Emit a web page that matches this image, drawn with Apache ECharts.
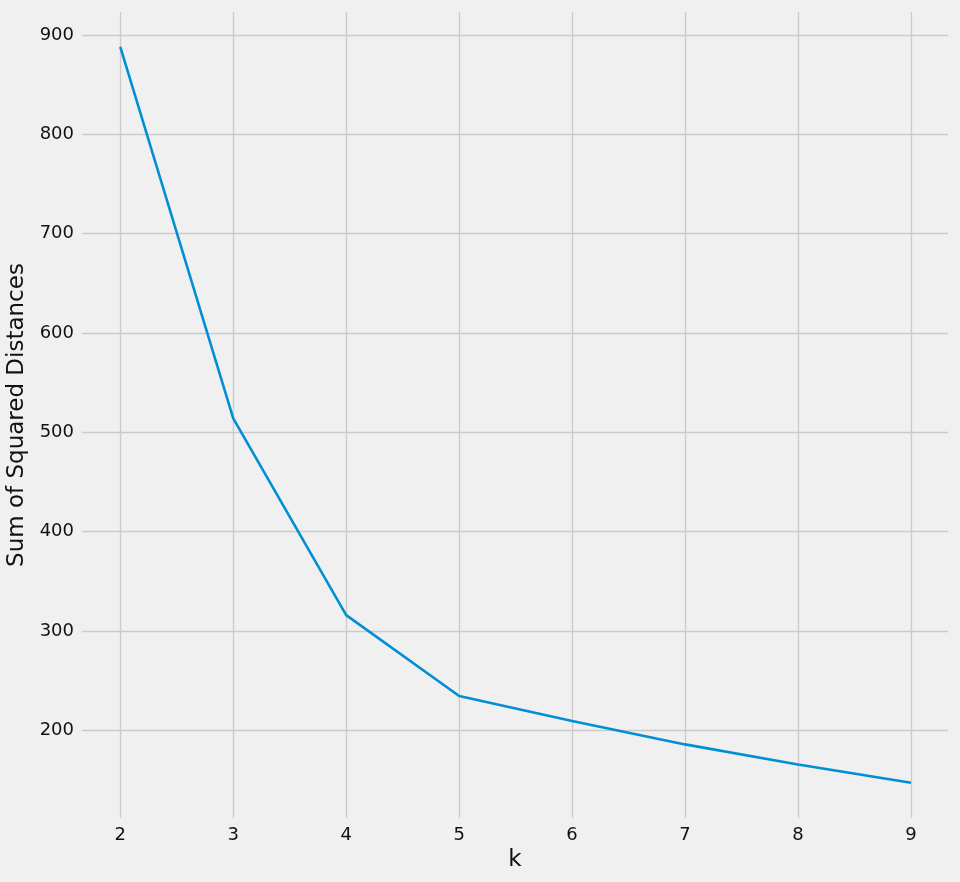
<!DOCTYPE html>
<html>
<head>
<meta charset="utf-8">
<script src="https://cdn.jsdelivr.net/npm/echarts@6/dist/echarts.min.js"></script>
<style>
html,body{margin:0;padding:0;background:#f0f0f0;}
#chart{width:960px;height:882px;}
</style>
</head>
<body>
<div id="chart"></div>
<script>
const kValues = [2, 3, 4, 5, 6, 7, 8, 9];
const ssd = [888, 514, 316, 234.5, 209.3, 185.8, 165.6, 147.2];
const xTicks = [2, 3, 4, 5, 6, 7, 8, 9];
const yTicks = [200, 300, 400, 500, 600, 700, 800, 900];

const chart = echarts.init(document.getElementById('chart'));
const font = 'DejaVu Sans';
chart.setOption({
  backgroundColor: '#f0f0f0',
  animation: false,
  grid: { left: 82, right: 12, top: 12, bottom: 64, containLabel: false, outerBoundsMode: 'none' },
  xAxis: {
    type: 'value',
    min: 1.661, max: 9.328,
    name: 'k',
    nameLocation: 'middle',
    nameGap: 31,
    nameTextStyle: { fontFamily: font, fontSize: 23, color: '#111' },
    axisLine: { show: false },
    axisTick: { show: false, customValues: xTicks },
    axisLabel: { customValues: xTicks, fontFamily: font, fontSize: 18, color: '#111', margin: 8 },
    splitLine: { show: true, lineStyle: { color: '#cbcbcb', width: 1.3 } }
  },
  yAxis: {
    type: 'value',
    min: 111.7, max: 923.2,
    name: 'Sum of Squared Distances',
    nameLocation: 'middle',
    nameGap: 48,
    nameRotate: 90,
    nameTextStyle: { fontFamily: font, fontSize: 23, color: '#111' },
    axisLine: { show: false },
    axisTick: { show: false, customValues: yTicks },
    axisLabel: { customValues: yTicks, fontFamily: font, fontSize: 18, color: '#111', margin: 8 },
    splitLine: { show: true, lineStyle: { color: '#cbcbcb', width: 1.3 } }
  },
  series: [{
    type: 'line',
    data: kValues.map((k, i) => [k, ssd[i]]),
    showSymbol: false,
    lineStyle: { color: '#008fd5', width: 2.6 },
    itemStyle: { color: '#008fd5' }
  }]
});
</script>
</body>
</html>
